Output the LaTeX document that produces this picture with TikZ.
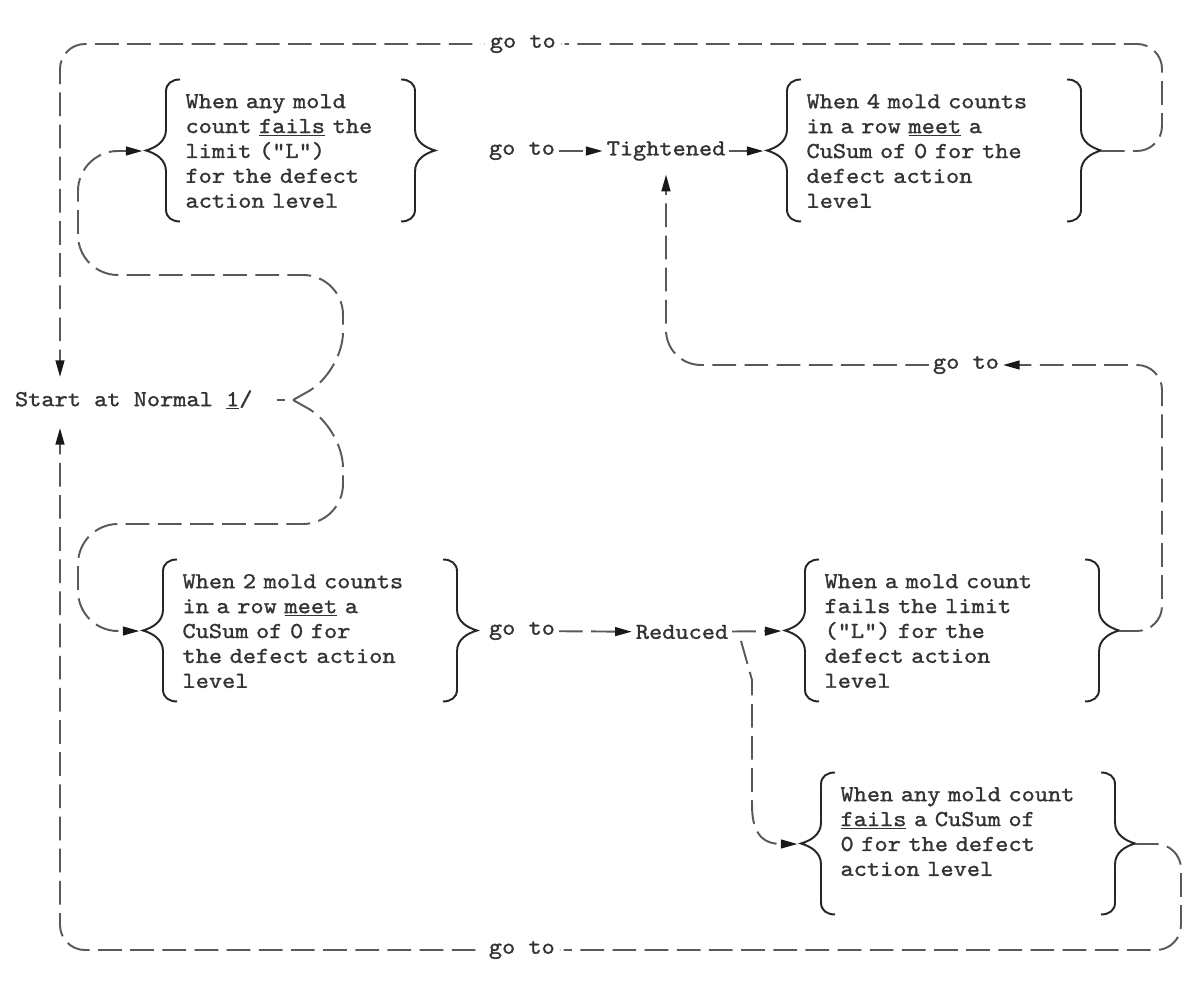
\documentclass[tikz,border=0pt]{standalone}
\usepackage{fontspec}
\usepackage{tikz}
\usetikzlibrary{arrows.meta}

\newfontfamily\typefont{lmmono10-regular}[Extension=.otf,FakeStretch=1.1,FakeBold=1.2]
\newcommand{\condfont}{\typefont\fontsize{13}{14.17}\selectfont}

\begin{document}
\begin{tikzpicture}[
      x = 0.02cm, y = -0.02cm, % one unit = one pixel of the scan
      > = {Triangle[length=9.5pt,width=5pt,color=black!90]}, % arrow head style
      semithick % line style
      ]

      \tikzset{
      flow/.style = {draw=black!65, line width=1.1pt, dash pattern=on 13.5pt off 4.8pt},
      cond/.style = {font=\condfont, text=black!80, align=left, inner sep=0pt,
                     minimum height=2.84cm, text width=5.14cm, anchor=west},
      txt/.style = {font=\condfont, text=black!80, inner sep=2pt},
      gap/.style = {fill=white, inner xsep=5pt},
      brc/.style = {draw=black!85, line width=1.1pt},
      % curly brace drawn downwards from its top end, tip to the left
      lbrace/.pic = {
        \draw[brc] (0,0) .. controls (-8,0) and (-14,4) .. (-14,12) -- (-14,50)
          .. controls (-14,62) and (-24,68) .. (-34,71)
          .. controls (-24,74) and (-14,80) .. (-14,92) -- (-14,130)
          .. controls (-14,138) and (-8,142) .. (0,142);
      }
      }

      \useasboundingbox (0,0) rectangle (1199,989);
      \fill[white] (0,0) rectangle (1199,989);

      % states and conditions
      \node[txt, anchor=west] (start) at (11,400) {Start at Normal \underline{1}/};
      \node[cond, text width=4.24cm] (tl) at (185,151) {When any mold\\count \underline{fails} the\\limit ("L")\\for the defect\\action level};
      \node[cond] (tr) at (806,151) {When 4 mold counts\\in a row \underline{meet} a\\CuSum of 0 for the\\defect action\\level};
      \node[cond] (bl) at (182,631) {When 2 mold counts\\in a row \underline{meet} a\\CuSum of 0 for\\the defect action\\level};
      \node[cond] (mr) at (824,631) {When a mold count\\fails the limit\\("L") for the\\defect action\\level};
      \node[cond] (br) at (840,844) {When any mold count\\\underline{fails} a CuSum of\\0 for the defect\\action level\\\mbox{}};

      \node[txt] (g1) at (522,151) {go to};
      \node[txt] (tight) at (666,151) {Tightened};
      \node[txt] (g3) at (522,631) {go to};
      \node[txt] (red) at (682,632) {Reduced};
      \node[txt] (g2) at (966,365) {go to};

      \coordinate (fork) at (293,400);
      \coordinate (s-top) at (60,377);
      \coordinate (s-bot) at (60,428);
      \coordinate (rfork) at (741,641);

      % braces
      \pic at ([xshift=-0.1cm]tl.north west) {lbrace};
      \pic[xscale=-1] at ([xshift=0.06cm]tl.north east) {lbrace};
      \pic at ([xshift=-0.1cm]tr.north west) {lbrace};
      \pic[xscale=-1] at ([xshift=0.06cm]tr.north east) {lbrace};
      \pic at ([xshift=-0.1cm]bl.north west) {lbrace};
      \pic[xscale=-1] at ([xshift=0.06cm]bl.north east) {lbrace};
      \pic at ([xshift=-0.1cm]mr.north west) {lbrace};
      \pic[xscale=-1] at ([xshift=0.06cm]mr.north east) {lbrace};
      \pic at ([xshift=-0.1cm]br.north west) {lbrace};
      \pic[xscale=-1] at ([xshift=0.06cm]br.north east) {lbrace};

      % from Normal
      \draw[flow, shorten <=0.4cm, shorten >=0.16cm] (start) -- (fork);
      \draw[flow, ->, rounded corners=0.8cm, shorten >=2pt] (fork) -- (343,372) -- (343,275) -- (78,275) -- (78,151) -- ([xshift=-0.78cm]tl.west);
      \draw[flow, ->, rounded corners=0.8cm, shorten >=2pt] (fork) -- (343,428) -- (343,524) -- (78,524) -- (78,631) -- ([xshift=-0.78cm]bl.west);

      % to Tightened
      \draw[flow, ->] (g1) -- (tight);
      \draw[flow, ->, shorten >=2pt] (tight) -- ([xshift=-0.78cm]tr.west);
      \draw[flow, ->, rounded corners=0.5cm] ([xshift=0.74cm]mr.east) -- (1162,631) -- (1162,365) -- (g2);
      \draw[flow, ->, rounded corners=0.7cm, shorten >=0.2cm] (g2) -| (tight);

      % to Reduced
      \draw[flow, ->] (g3) -- (red);
      \draw[flow, ->, shorten >=2pt] (red) -- ([xshift=-0.78cm]mr.west);
      \draw[flow, ->, shorten >=2pt] (rfork) -- (752,680) -- (752,805) .. controls (752,830) and (760,844) .. ([xshift=-0.78cm]br.west);

      % back to Normal
      \draw[flow, ->, rounded corners=0.5cm] ([xshift=0.74cm]tr.east) -- (1162,151) -- (1162,44) -- node[txt, gap, pos=0.58] {go to} (60,44) -- (s-top);
      \draw[flow, ->, rounded corners=0.5cm] ([xshift=0.74cm]br.east) -- (1181,844) -- (1181,950) -- node[txt, gap, pos=0.588] {go to} (60,950) -- (s-bot);

    \end{tikzpicture}
\end{document}
